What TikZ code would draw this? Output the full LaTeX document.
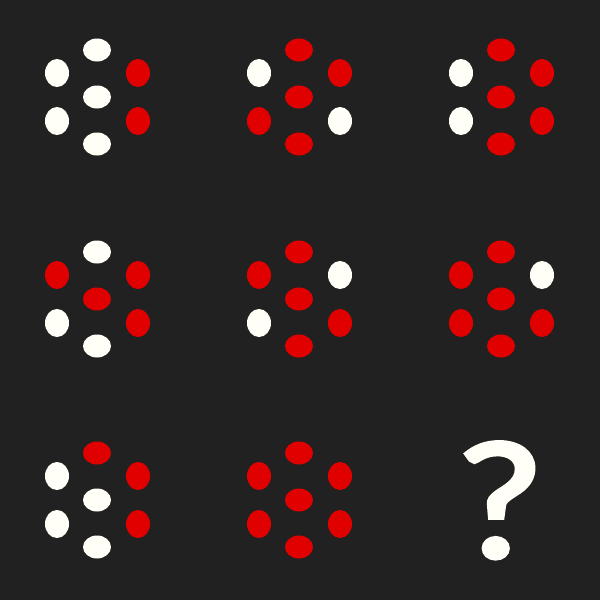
\documentclass[tikz,border=0pt]{standalone}
\usepackage{fontspec}
\usepackage{graphicx}
\setmainfont{Liberation Sans}
\newfontfamily\qfont{Lato}[FakeBold=3]
\usetikzlibrary{shapes.geometric}
\definecolor{bgDark}{HTML}{212121}
\definecolor{dotR}{HTML}{E00000}
\definecolor{dotW}{HTML}{FFFEF7}

\begin{document}
\begin{tikzpicture}[x=0.02cm, y=-0.02cm,
    flat/.style={ellipse, inner sep=0pt, minimum width=0.56cm, minimum height=0.46cm},
    tall/.style={ellipse, inner sep=0pt, minimum width=0.48cm, minimum height=0.56cm}]
  \fill[bgDark] (0,0) rectangle (600,600);
  % top / upper left / upper right / middle / lower left / lower right / bottom
  \foreach \i/\cx/\cy/\t/\ul/\ur/\m/\ll/\lr/\b in {
      1/97/97/W/W/R/W/W/R/W, 2/299/97/R/W/R/R/R/W/R, 3/501/97/R/W/R/R/W/R/R,
      4/97/299/W/R/R/R/W/R/W, 5/299/299/R/R/W/R/W/R/R, 6/501/299/R/R/W/R/R/R/R,
      7/97/500/R/W/R/W/W/R/W, 8/299/500/R/R/R/R/R/R/R}{
    \node[flat, fill=dot\t] (t\i) at (\cx,\cy-47) {};
    \node[tall, fill=dot\ul] (ul\i) at (\cx-40,\cy-24) {};
    \node[tall, fill=dot\ur] (ur\i) at (\cx+41,\cy-24) {};
    \node[flat, fill=dot\m] (m\i) at (\cx,\cy) {};
    \node[tall, fill=dot\ll] (ll\i) at (\cx-40,\cy+24) {};
    \node[tall, fill=dot\lr] (lr\i) at (\cx+41,\cy+24) {};
    \node[flat, fill=dot\b] (b\i) at (\cx,\cy+47) {};
  }
  \node[font=\qfont\fontsize{90}{90}\selectfont, text=dotW, inner sep=0pt, anchor=base] (q) at (500,557) {\scalebox{1.15}[1]{?}};
\end{tikzpicture}
\end{document}
